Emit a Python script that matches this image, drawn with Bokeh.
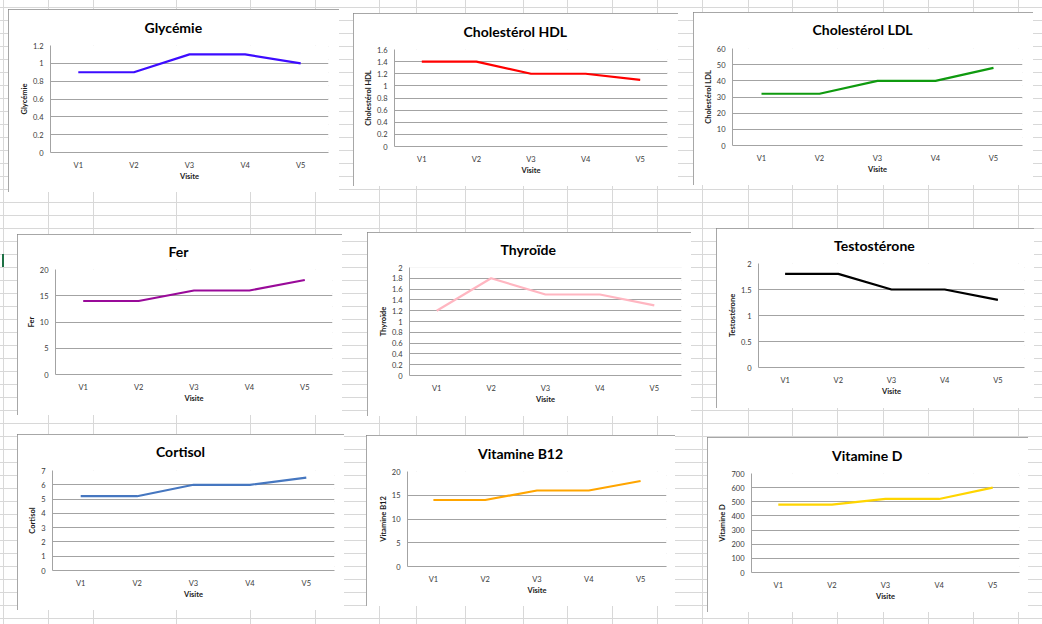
from bokeh.embed import file_html
from bokeh.resources import INLINE
from bokeh.plotting import figure
from bokeh.layouts import row, column
from bokeh.models import FactorRange, Range1d, FixedTicker, CustomJSTickFormatter, Title

# data
visits = ["V1", "V2", "V3", "V4", "V5"]

glycemie = [0.9, 0.9, 1.1, 1.1, 1.0]
hdl = [1.4, 1.4, 1.2, 1.2, 1.1]
ldl = [32, 32, 40, 40, 48]
fer = [14, 14, 16, 16, 18]
thyroide = [1.2, 1.8, 1.5, 1.5, 1.3]
testosterone = [1.8, 1.8, 1.5, 1.5, 1.3]
cortisol = [5.2, 5.2, 6, 6, 6.5]
b12 = [14, 14, 16, 16, 18]
vitamine_d = [480, 480, 520, 520, 600]

ticks_glycemie = [0, 0.2, 0.4, 0.6, 0.8, 1, 1.2]
ticks_hdl = [0, 0.2, 0.4, 0.6, 0.8, 1, 1.2, 1.4, 1.6]
ticks_ldl = [0, 10, 20, 30, 40, 50, 60]
ticks_fer = [0, 5, 10, 15, 20]
ticks_thyroide = [0, 0.2, 0.4, 0.6, 0.8, 1, 1.2, 1.4, 1.6, 1.8, 2]
ticks_testosterone = [0, 0.5, 1, 1.5, 2]
ticks_cortisol = [0, 1, 2, 3, 4, 5, 6, 7]
ticks_b12 = [0, 5, 10, 15, 20]
ticks_vitamine_d = [0, 100, 200, 300, 400, 500, 600, 700]

FONT = "Lato"
GRID = "#a3a3a3"
SHEET = "#d8d8d8"
# spreadsheet column boundaries (page px)
sheet_cols = [3, 48, 93, 176, 250, 315, 379, 416, 465, 523, 567, 612, 657,
              702, 748, 792, 837, 883, 928, 973, 1018]


def chart(title, title_w, values, ticks, color, size, frame, margin):
    w, h = size
    left, right, top, bottom = frame
    p = figure(width=w, height=h, title=None,
               x_range=FactorRange(factors=visits),
               y_range=Range1d(0, ticks[-1]),
               output_backend="svg", toolbar_location=None,
               min_border_left=left, min_border_right=right,
               min_border_top=top, min_border_bottom=bottom,
               margin=margin, align="start")
    p.background_fill_color = "white"
    p.border_fill_color = "white"
    p.outline_line_color = None
    p.styles = {"outline": "1px solid #8a8a8a", "outline-offset": "-1px"}

    p.line(visits, values, line_color=color, line_width=2.2, line_join="round")

    p.xgrid.grid_line_color = None
    p.ygrid.grid_line_color = GRID
    p.yaxis.ticker = FixedTicker(ticks=ticks)
    p.yaxis.formatter = CustomJSTickFormatter(code="return String(parseFloat(tick.toFixed(4)))")

    for ax in (p.xaxis, p.yaxis):
        ax.axis_line_color = GRID
        ax.major_tick_line_color = None
        ax.minor_tick_line_color = None
        ax.major_tick_out = 0
        ax.major_tick_in = 0
        ax.major_label_text_font = FONT
        ax.major_label_text_font_size = "7.5px"
        ax.major_label_text_color = "#3a3a3a"
        ax.axis_label_text_font = FONT
        ax.axis_label_text_font_style = "bold"
        ax.axis_label_text_font_size = "7.5px"
        ax.axis_label_text_color = "#1a1a1a"
    p.xaxis.major_label_standoff = 8
    p.xaxis.axis_label_standoff = -1
    p.yaxis.major_label_standoff = 7
    p.yaxis.axis_label_standoff = 1
    p.xaxis.axis_label = "Visite"
    p.yaxis.axis_label = title

    # centred on the whole chart box, not on the plot frame
    p.add_layout(Title(text=title, align="left", vertical_align="top",
                       offset=w / 2 - left - title_w / 2 - 1,
                       text_font=FONT, text_font_style="bold", text_font_size="14px",
                       text_color="black", standoff=top - 19), "above")
    return p


row1 = row(
    chart("Glycémie", 57, glycemie, ticks_glycemie, "#3d0cff", (331, 183), (42, 11, 35, 40), (9, 0, 0, 8)),
    chart("Cholestérol HDL", 103, hdl, ticks_hdl, "#ff0000", (325, 173), (41, 11, 35, 39), (13, 0, 0, 14)),
    chart("Cholestérol LDL", 100, ldl, ticks_ldl, "#0f9a0f", (340, 173), (39, 11, 36, 40), (12, 0, 0, 15)),
    spacing=0,
)
row2 = row(
    chart("Fer", 21, fer, ticks_fer, "#990a99", (325, 181), (38, 10, 35, 40), (42, 0, 0, 17)),
    chart("Thyroïde", 56, thyroide, ticks_thyroide, "#ffb6c1", (324, 184), (42, 10, 35, 40), (40, 0, 0, 25)),
    chart("Testostérone", 81, testosterone, ticks_testosterone, "#000000", (318, 180), (42, 10, 34, 41), (36, 0, 0, 25)),
    spacing=0,
)
row3 = row(
    chart("Cortisol", 48, cortisol, ticks_cortisol, "#4677c0", (327, 176), (35, 10, 36, 40), (18, 0, 0, 17)),
    chart("Vitamine B12", 84, b12, ticks_b12, "#ffa500", (309, 171), (41, 9, 34, 40), (19, 0, 0, 22)),
    chart("Vitamine D", 70, vitamine_d, ticks_vitamine_d, "#ffd500", (321, 175), (44, 9, 35, 40), (21, 0, 0, 32)),
    spacing=0,
)

layers = ["linear-gradient(#1e7145, #1e7145)"]
sizes = ["2px 13px"]
positions = ["2px 254px"]
repeats = ["no-repeat"]
for x in sheet_cols:
    layers.append("linear-gradient(%s, %s)" % (SHEET, SHEET))
    sizes.append("1px 100%")
    positions.append("%dpx 0px" % x)
    repeats.append("no-repeat")
layers.append("linear-gradient(to bottom, %s 0px, %s 1px, transparent 1px)" % (SHEET, SHEET))
sizes.append("100% 13px")
positions.append("0px 7px")
repeats.append("repeat")

page = column(row1, row2, row3, spacing=0, width=1042, height=624)
page.styles = {
    "background-color": "white",
    "background-image": ", ".join(layers),
    "background-size": ", ".join(sizes),
    "background-position": ", ".join(positions),
    "background-repeat": ", ".join(repeats),
}

open("out.html", "w").write(file_html(page, INLINE))
